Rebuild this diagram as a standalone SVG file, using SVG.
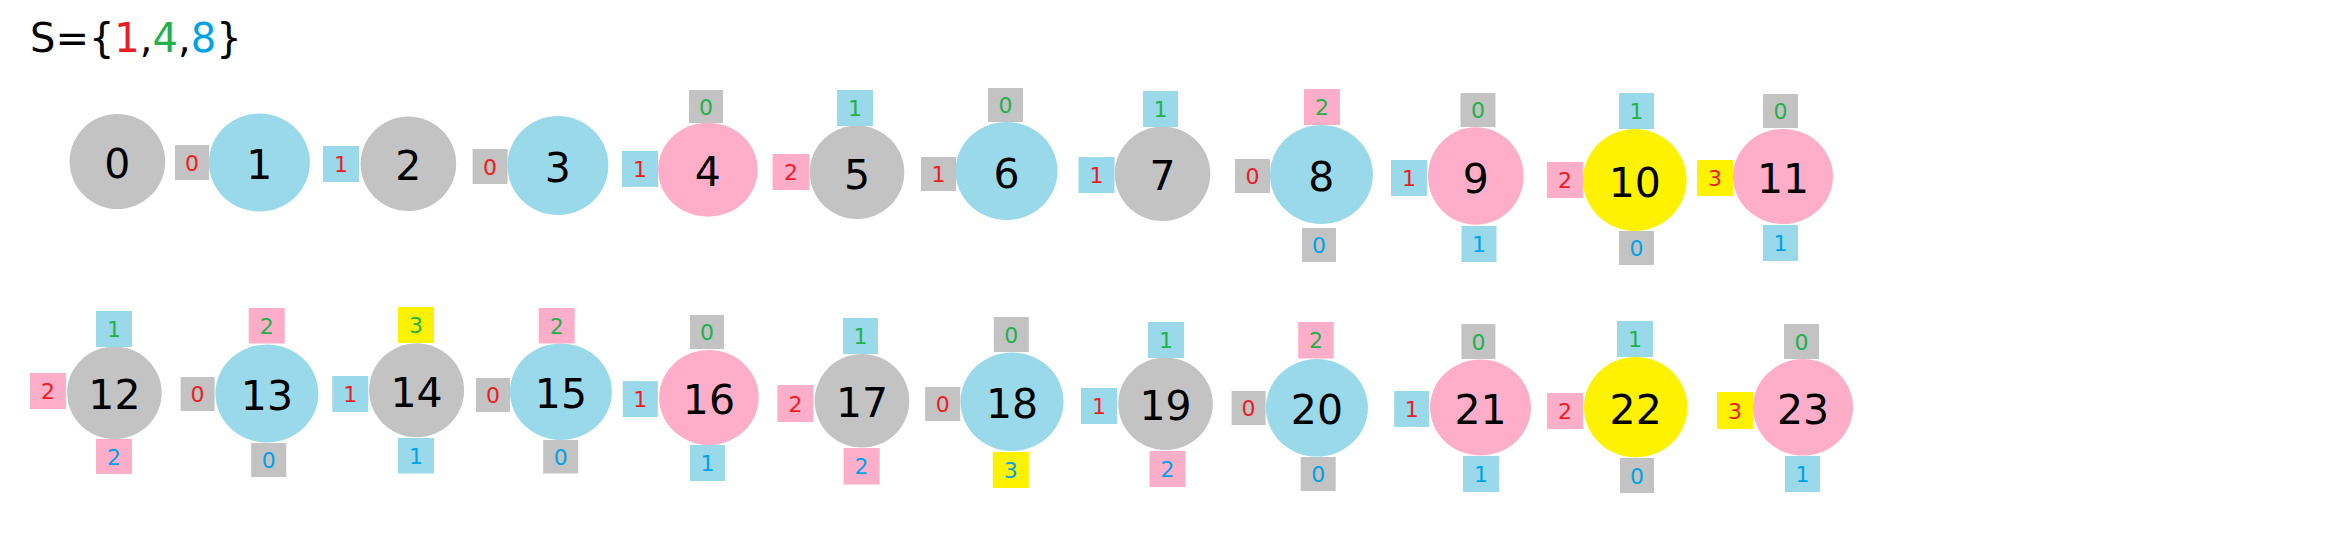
<svg xmlns="http://www.w3.org/2000/svg" width="2325" height="555" viewBox="0 0 2325 555">
<style>
.g{fill:#c3c3c3}.b{fill:#99d9ea}.p{fill:#ffaec9}.y{fill:#fff200}
text{font-family:"DejaVu Sans","Liberation Sans",sans-serif;text-anchor:middle}
.n{font-size:41px;fill:#000}
.s{font-size:22px}
.r{fill:#ed1c24}.gr{fill:#22b14c}.bl{fill:#00a2e8}
.t{font-size:40px;text-anchor:start;fill:#000}
</style>
<rect width="2325" height="555" fill="#fff"/>
<text class="t" x="30" y="52">S={<tspan class="r">1</tspan>,<tspan class="gr">4</tspan>,<tspan class="bl">8</tspan>}</text>
<g id="connectors"></g>

<g id="node0"><ellipse class="g" cx="117.4" cy="161.5" rx="47.8" ry="47.5"/><text class="n" x="117.4" y="178">0</text></g>

<g id="node1"><ellipse class="b" cx="259.4" cy="162.5" rx="50.5" ry="49"/><text class="n" x="259.4" y="179">1</text>
<rect class="g" x="175" y="145" width="34" height="35"/><text class="s r" x="192" y="170.5">0</text></g>

<g id="node2"><ellipse class="g" cx="408.4" cy="163.8" rx="47.8" ry="47.2"/><text class="n" x="408.4" y="180.3">2</text>
<rect class="b" x="323" y="146" width="36" height="36"/><text class="s r" x="341" y="172">1</text></g>

<g id="node3"><ellipse class="b" cx="557.9" cy="165.5" rx="50.5" ry="49.5"/><text class="n" x="557.9" y="182">3</text>
<rect class="g" x="472.6" y="149" width="35" height="35"/><text class="s r" x="490.1" y="174.5">0</text></g>

<g id="node4"><ellipse class="p" cx="707.9" cy="169.7" rx="49.8" ry="47"/><text class="n" x="707.9" y="186.2">4</text>
<rect class="b" x="622" y="151" width="36" height="36"/><text class="s r" x="640" y="177">1</text>
<rect class="g" x="689" y="90" width="34" height="33"/><text class="s gr" x="706" y="114.5">0</text></g>

<g id="node5"><ellipse class="g" cx="857" cy="172.3" rx="47.3" ry="46.7"/><text class="n" x="857" y="188.8">5</text>
<rect class="p" x="772.5" y="154" width="37" height="36"/><text class="s r" x="791" y="180">2</text>
<rect class="b" x="837" y="90" width="36" height="36"/><text class="s gr" x="855" y="116">1</text></g>

<g id="node6"><ellipse class="b" cx="1006.5" cy="171" rx="51" ry="49"/><text class="n" x="1006.5" y="187.5">6</text>
<rect class="g" x="921" y="157" width="35" height="34"/><text class="s r" x="938.5" y="182">1</text>
<rect class="g" x="988" y="88" width="35" height="34"/><text class="s gr" x="1005.5" y="113">0</text></g>

<g id="node7"><ellipse class="g" cx="1162.5" cy="173.8" rx="47.8" ry="47.2"/><text class="n" x="1162.5" y="190.3">7</text>
<rect class="b" x="1078.5" y="157" width="36" height="36"/><text class="s r" x="1096.5" y="183">1</text>
<rect class="b" x="1143" y="91" width="35" height="36"/><text class="s gr" x="1160.5" y="117">1</text></g>

<g id="node8"><ellipse class="b" cx="1321.4" cy="174.5" rx="51.5" ry="49.5"/><text class="n" x="1321.4" y="191">8</text>
<rect class="g" x="1235" y="159" width="35" height="34"/><text class="s r" x="1252.5" y="184">0</text>
<rect class="p" x="1304" y="89" width="36" height="36"/><text class="s gr" x="1322" y="115">2</text>
<rect class="g" x="1302" y="228" width="34" height="34"/><text class="s bl" x="1319" y="253">0</text></g>

<g id="node9"><ellipse class="p" cx="1475.8" cy="176" rx="47.8" ry="48.7"/><text class="n" x="1475.8" y="192.5">9</text>
<rect class="b" x="1391" y="160" width="36" height="36"/><text class="s r" x="1409" y="186">1</text>
<rect class="g" x="1460.5" y="93" width="35" height="34"/><text class="s gr" x="1478" y="118">0</text>
<rect class="b" x="1461.5" y="226" width="35" height="36"/><text class="s bl" x="1479" y="252">1</text></g>

<g id="node10"><ellipse class="y" cx="1634.8" cy="180" rx="51.8" ry="51"/><text class="n" x="1634.8" y="196.5">10</text>
<rect class="p" x="1547" y="162" width="36" height="36"/><text class="s r" x="1565" y="188">2</text>
<rect class="b" x="1619" y="93" width="35" height="36"/><text class="s gr" x="1636.5" y="119">1</text>
<rect class="g" x="1619" y="231" width="35" height="34"/><text class="s bl" x="1636.5" y="256">0</text></g>

<g id="node11"><ellipse class="p" cx="1783" cy="176.5" rx="50" ry="47.5"/><text class="n" x="1783" y="193">11</text>
<rect class="y" x="1697" y="160" width="36" height="36"/><text class="s r" x="1715" y="186">3</text>
<rect class="g" x="1763" y="94" width="35" height="34"/><text class="s gr" x="1780.5" y="119">0</text>
<rect class="b" x="1763" y="225" width="35" height="36"/><text class="s bl" x="1780.5" y="251">1</text></g>

<g id="node12"><ellipse class="g" cx="114.4" cy="392.8" rx="47.3" ry="46.2"/><text class="n" x="114.4" y="409.3">12</text>
<rect class="p" x="30" y="373" width="36" height="36"/><text class="s r" x="48" y="399">2</text>
<rect class="b" x="96" y="311" width="36" height="36"/><text class="s gr" x="114" y="337">1</text>
<rect class="p" x="96" y="439" width="36" height="35"/><text class="s bl" x="114" y="464.5">2</text></g>

<g id="node13"><ellipse class="b" cx="266.9" cy="393.5" rx="51.5" ry="49"/><text class="n" x="266.9" y="410">13</text>
<rect class="g" x="180.6" y="377" width="34" height="34"/><text class="s r" x="197.6" y="402">0</text>
<rect class="p" x="248.7" y="308" width="36" height="35.5"/><text class="s gr" x="266.7" y="333.7">2</text>
<rect class="g" x="251.2" y="443" width="35" height="34"/><text class="s bl" x="268.7" y="468">0</text></g>

<g id="node14"><ellipse class="g" cx="416.6" cy="390.3" rx="47.5" ry="47"/><text class="n" x="416.6" y="406.8">14</text>
<rect class="b" x="332.3" y="376" width="36" height="36"/><text class="s r" x="350.3" y="402">1</text>
<rect class="y" x="398" y="307" width="36" height="36"/><text class="s gr" x="416" y="333">3</text>
<rect class="b" x="398" y="438" width="36" height="35.5"/><text class="s bl" x="416" y="463.7">1</text></g>

<g id="node15"><ellipse class="b" cx="560.9" cy="391.7" rx="51" ry="48.3"/><text class="n" x="560.9" y="408.2">15</text>
<rect class="g" x="476" y="378" width="34" height="34"/><text class="s r" x="493" y="403">0</text>
<rect class="p" x="538.7" y="308" width="36" height="35.5"/><text class="s gr" x="556.7" y="333.7">2</text>
<rect class="g" x="543.2" y="440" width="35" height="33.5"/><text class="s bl" x="560.7" y="464.7">0</text></g>

<g id="node16"><ellipse class="p" cx="708.9" cy="397.5" rx="49.8" ry="47.5"/><text class="n" x="708.9" y="414">16</text>
<rect class="b" x="622.8" y="381" width="35" height="36"/><text class="s r" x="640.3" y="407">1</text>
<rect class="g" x="690" y="315" width="34" height="34"/><text class="s gr" x="707" y="340">0</text>
<rect class="b" x="690" y="445" width="35" height="36"/><text class="s bl" x="707.5" y="471">1</text></g>

<g id="node17"><ellipse class="g" cx="862" cy="400.8" rx="47.3" ry="46.8"/><text class="n" x="862" y="417.3">17</text>
<rect class="p" x="777.4" y="385" width="36" height="37"/><text class="s r" x="795.4" y="411.5">2</text>
<rect class="b" x="843" y="318" width="35" height="36"/><text class="s gr" x="860.5" y="344">1</text>
<rect class="p" x="843.6" y="448" width="36" height="36.5"/><text class="s bl" x="861.6" y="474.2">2</text></g>

<g id="node18"><ellipse class="b" cx="1012" cy="401.7" rx="51.5" ry="49.3"/><text class="n" x="1012" y="418.2">18</text>
<rect class="g" x="925.2" y="387" width="35" height="34"/><text class="s r" x="942.7" y="412">0</text>
<rect class="g" x="993.8" y="317" width="35" height="35"/><text class="s gr" x="1011.3" y="342.5">0</text>
<rect class="y" x="992.8" y="452" width="36" height="36"/><text class="s bl" x="1010.8" y="478">3</text></g>

<g id="node19"><ellipse class="g" cx="1165.5" cy="403.8" rx="47.3" ry="46.2"/><text class="n" x="1165.5" y="420.3">19</text>
<rect class="b" x="1081" y="388" width="36" height="36"/><text class="s r" x="1099" y="414">1</text>
<rect class="b" x="1148" y="322" width="36" height="36"/><text class="s gr" x="1166" y="348">1</text>
<rect class="p" x="1149.5" y="451" width="36" height="36"/><text class="s bl" x="1167.5" y="477">2</text></g>

<g id="node20"><ellipse class="b" cx="1316.9" cy="407.8" rx="51" ry="48.8"/><text class="n" x="1316.9" y="424.3">20</text>
<rect class="g" x="1231.6" y="391" width="34" height="34"/><text class="s r" x="1248.6" y="416">0</text>
<rect class="p" x="1298.2" y="322" width="35.5" height="36.5"/><text class="s gr" x="1316" y="348.2">2</text>
<rect class="g" x="1300.7" y="457" width="35" height="34"/><text class="s bl" x="1318.2" y="482">0</text></g>

<g id="node21"><ellipse class="p" cx="1480.5" cy="407.5" rx="50.5" ry="48"/><text class="n" x="1480.5" y="424">21</text>
<rect class="b" x="1394.2" y="391" width="35" height="36"/><text class="s r" x="1411.7" y="417">1</text>
<rect class="g" x="1461.4" y="324" width="34" height="35"/><text class="s gr" x="1478.4" y="349.5">0</text>
<rect class="b" x="1463" y="456" width="36" height="36"/><text class="s bl" x="1481" y="482">1</text></g>

<g id="node22"><ellipse class="y" cx="1635.7" cy="407.2" rx="51.7" ry="50.2"/><text class="n" x="1635.7" y="423.7">22</text>
<rect class="p" x="1547" y="393" width="36" height="36"/><text class="s r" x="1565" y="419">2</text>
<rect class="b" x="1617" y="321" width="36" height="36"/><text class="s gr" x="1635" y="347">1</text>
<rect class="g" x="1620" y="458" width="34" height="35"/><text class="s bl" x="1637" y="483.5">0</text></g>

<g id="node23"><ellipse class="p" cx="1803" cy="407.3" rx="50" ry="48.3"/><text class="n" x="1803" y="423.8">23</text>
<rect class="y" x="1717" y="392" width="36" height="37"/><text class="s r" x="1735" y="418.5">3</text>
<rect class="g" x="1784" y="324" width="35" height="35"/><text class="s gr" x="1801.5" y="349.5">0</text>
<rect class="b" x="1785" y="456" width="35" height="36"/><text class="s bl" x="1802.5" y="482">1</text></g>
</svg>
